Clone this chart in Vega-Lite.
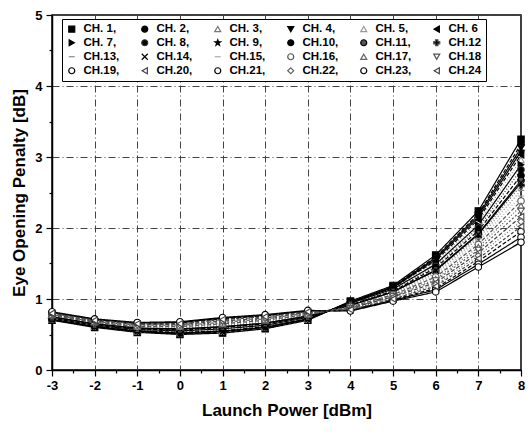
{
  "$schema": "https://vega.github.io/schema/vega-lite/v6.json",
  "width": 469,
  "height": 355,
  "autosize": "none",
  "padding": {"left": 52, "top": 15, "right": 11, "bottom": 64},
  "background": "white",
  "config": {
    "view": {"stroke": "black", "strokeWidth": 1.5},
    "font": "Liberation Sans",
    "axis": {
      "domainColor": "black", "domainWidth": 1.5,
      "tickColor": "black", "tickWidth": 1.2,
      "labelFont": "Liberation Sans", "labelFontWeight": "bold", "labelFontSize": 13, "labelColor": "black",
      "titleFont": "Liberation Sans", "titleFontWeight": "bold", "titleFontSize": 17, "titleColor": "black",
      "gridColor": "#444", "gridDash": [7, 3, 1, 3], "gridWidth": 1
    },
    "legend": {
      "orient": "none", "legendX": 10, "legendY": 4, "columns": 6, "direction": "horizontal",
      "strokeColor": "black", "fillColor": "white", "padding": 4,
      "labelFont": "Liberation Sans", "labelFontWeight": "bold", "labelFontSize": 11.5, "labelColor": "black",
      "symbolSize": 36, "symbolStrokeWidth": 1.2, "labelOffset": 6, "columnPadding": 19, "rowPadding": 1,
      "title": null
    }
  },
  "data": {"values": [
    {"ch":"CH. 1","x":-3,"y":0.70},{"ch":"CH. 1","x":-2,"y":0.60},{"ch":"CH. 1","x":-1,"y":0.53},{"ch":"CH. 1","x":0,"y":0.50},{"ch":"CH. 1","x":1,"y":0.52},{"ch":"CH. 1","x":2,"y":0.58},{"ch":"CH. 1","x":3,"y":0.70},{"ch":"CH. 1","x":4,"y":0.97},{"ch":"CH. 1","x":5,"y":1.19},{"ch":"CH. 1","x":6,"y":1.62},{"ch":"CH. 1","x":7,"y":2.24},{"ch":"CH. 1","x":8,"y":3.25},
    {"ch":"CH. 2","x":-3,"y":0.71},{"ch":"CH. 2","x":-2,"y":0.61},{"ch":"CH. 2","x":-1,"y":0.54},{"ch":"CH. 2","x":0,"y":0.51},{"ch":"CH. 2","x":1,"y":0.53},{"ch":"CH. 2","x":2,"y":0.59},{"ch":"CH. 2","x":3,"y":0.71},{"ch":"CH. 2","x":4,"y":0.96},{"ch":"CH. 2","x":5,"y":1.18},{"ch":"CH. 2","x":6,"y":1.59},{"ch":"CH. 2","x":7,"y":2.20},{"ch":"CH. 2","x":8,"y":3.18},
    {"ch":"CH. 3","x":-3,"y":0.71},{"ch":"CH. 3","x":-2,"y":0.61},{"ch":"CH. 3","x":-1,"y":0.54},{"ch":"CH. 3","x":0,"y":0.52},{"ch":"CH. 3","x":1,"y":0.54},{"ch":"CH. 3","x":2,"y":0.60},{"ch":"CH. 3","x":3,"y":0.71},{"ch":"CH. 3","x":4,"y":0.96},{"ch":"CH. 3","x":5,"y":1.17},{"ch":"CH. 3","x":6,"y":1.57},{"ch":"CH. 3","x":7,"y":2.16},{"ch":"CH. 3","x":8,"y":3.11},
    {"ch":"CH. 4","x":-3,"y":0.71},{"ch":"CH. 4","x":-2,"y":0.61},{"ch":"CH. 4","x":-1,"y":0.54},{"ch":"CH. 4","x":0,"y":0.51},{"ch":"CH. 4","x":1,"y":0.54},{"ch":"CH. 4","x":2,"y":0.60},{"ch":"CH. 4","x":3,"y":0.71},{"ch":"CH. 4","x":4,"y":0.96},{"ch":"CH. 4","x":5,"y":1.17},{"ch":"CH. 4","x":6,"y":1.58},{"ch":"CH. 4","x":7,"y":2.18},{"ch":"CH. 4","x":8,"y":3.13},
    {"ch":"CH. 5","x":-3,"y":0.72},{"ch":"CH. 5","x":-2,"y":0.62},{"ch":"CH. 5","x":-1,"y":0.56},{"ch":"CH. 5","x":0,"y":0.54},{"ch":"CH. 5","x":1,"y":0.56},{"ch":"CH. 5","x":2,"y":0.62},{"ch":"CH. 5","x":3,"y":0.73},{"ch":"CH. 5","x":4,"y":0.94},{"ch":"CH. 5","x":5,"y":1.15},{"ch":"CH. 5","x":6,"y":1.52},{"ch":"CH. 5","x":7,"y":2.08},{"ch":"CH. 5","x":8,"y":2.96},
    {"ch":"CH. 6","x":-3,"y":0.72},{"ch":"CH. 6","x":-2,"y":0.62},{"ch":"CH. 6","x":-1,"y":0.55},{"ch":"CH. 6","x":0,"y":0.53},{"ch":"CH. 6","x":1,"y":0.55},{"ch":"CH. 6","x":2,"y":0.61},{"ch":"CH. 6","x":3,"y":0.72},{"ch":"CH. 6","x":4,"y":0.95},{"ch":"CH. 6","x":5,"y":1.16},{"ch":"CH. 6","x":6,"y":1.54},{"ch":"CH. 6","x":7,"y":2.12},{"ch":"CH. 6","x":8,"y":3.03},
    {"ch":"CH. 7","x":-3,"y":0.73},{"ch":"CH. 7","x":-2,"y":0.63},{"ch":"CH. 7","x":-1,"y":0.57},{"ch":"CH. 7","x":0,"y":0.55},{"ch":"CH. 7","x":1,"y":0.58},{"ch":"CH. 7","x":2,"y":0.63},{"ch":"CH. 7","x":3,"y":0.74},{"ch":"CH. 7","x":4,"y":0.94},{"ch":"CH. 7","x":5,"y":1.14},{"ch":"CH. 7","x":6,"y":1.49},{"ch":"CH. 7","x":7,"y":2.04},{"ch":"CH. 7","x":8,"y":2.89},
    {"ch":"CH. 8","x":-3,"y":0.74},{"ch":"CH. 8","x":-2,"y":0.64},{"ch":"CH. 8","x":-1,"y":0.57},{"ch":"CH. 8","x":0,"y":0.55},{"ch":"CH. 8","x":1,"y":0.59},{"ch":"CH. 8","x":2,"y":0.64},{"ch":"CH. 8","x":3,"y":0.74},{"ch":"CH. 8","x":4,"y":0.93},{"ch":"CH. 8","x":5,"y":1.12},{"ch":"CH. 8","x":6,"y":1.46},{"ch":"CH. 8","x":7,"y":2.00},{"ch":"CH. 8","x":8,"y":2.82},
    {"ch":"CH. 9","x":-3,"y":0.71},{"ch":"CH. 9","x":-2,"y":0.61},{"ch":"CH. 9","x":-1,"y":0.55},{"ch":"CH. 9","x":0,"y":0.52},{"ch":"CH. 9","x":1,"y":0.55},{"ch":"CH. 9","x":2,"y":0.60},{"ch":"CH. 9","x":3,"y":0.72},{"ch":"CH. 9","x":4,"y":0.95},{"ch":"CH. 9","x":5,"y":1.16},{"ch":"CH. 9","x":6,"y":1.56},{"ch":"CH. 9","x":7,"y":2.15},{"ch":"CH. 9","x":8,"y":3.08},
    {"ch":"CH.10","x":-3,"y":0.74},{"ch":"CH.10","x":-2,"y":0.64},{"ch":"CH.10","x":-1,"y":0.58},{"ch":"CH.10","x":0,"y":0.56},{"ch":"CH.10","x":1,"y":0.60},{"ch":"CH.10","x":2,"y":0.65},{"ch":"CH.10","x":3,"y":0.75},{"ch":"CH.10","x":4,"y":0.92},{"ch":"CH.10","x":5,"y":1.11},{"ch":"CH.10","x":6,"y":1.44},{"ch":"CH.10","x":7,"y":1.96},{"ch":"CH.10","x":8,"y":2.74},
    {"ch":"CH.11","x":-3,"y":0.75},{"ch":"CH.11","x":-2,"y":0.65},{"ch":"CH.11","x":-1,"y":0.59},{"ch":"CH.11","x":0,"y":0.57},{"ch":"CH.11","x":1,"y":0.61},{"ch":"CH.11","x":2,"y":0.66},{"ch":"CH.11","x":3,"y":0.76},{"ch":"CH.11","x":4,"y":0.91},{"ch":"CH.11","x":5,"y":1.10},{"ch":"CH.11","x":6,"y":1.41},{"ch":"CH.11","x":7,"y":1.92},{"ch":"CH.11","x":8,"y":2.67},
    {"ch":"CH.12","x":-3,"y":0.75},{"ch":"CH.12","x":-2,"y":0.65},{"ch":"CH.12","x":-1,"y":0.59},{"ch":"CH.12","x":0,"y":0.58},{"ch":"CH.12","x":1,"y":0.62},{"ch":"CH.12","x":2,"y":0.67},{"ch":"CH.12","x":3,"y":0.76},{"ch":"CH.12","x":4,"y":0.91},{"ch":"CH.12","x":5,"y":1.09},{"ch":"CH.12","x":6,"y":1.39},{"ch":"CH.12","x":7,"y":1.88},{"ch":"CH.12","x":8,"y":2.60},
    {"ch":"CH.13","x":-3,"y":0.76},{"ch":"CH.13","x":-2,"y":0.66},{"ch":"CH.13","x":-1,"y":0.60},{"ch":"CH.13","x":0,"y":0.59},{"ch":"CH.13","x":1,"y":0.63},{"ch":"CH.13","x":2,"y":0.68},{"ch":"CH.13","x":3,"y":0.77},{"ch":"CH.13","x":4,"y":0.90},{"ch":"CH.13","x":5,"y":1.08},{"ch":"CH.13","x":6,"y":1.36},{"ch":"CH.13","x":7,"y":1.85},{"ch":"CH.13","x":8,"y":2.53},
    {"ch":"CH.14","x":-3,"y":0.75},{"ch":"CH.14","x":-2,"y":0.65},{"ch":"CH.14","x":-1,"y":0.59},{"ch":"CH.14","x":0,"y":0.58},{"ch":"CH.14","x":1,"y":0.61},{"ch":"CH.14","x":2,"y":0.66},{"ch":"CH.14","x":3,"y":0.76},{"ch":"CH.14","x":4,"y":0.91},{"ch":"CH.14","x":5,"y":1.10},{"ch":"CH.14","x":6,"y":1.40},{"ch":"CH.14","x":7,"y":1.91},{"ch":"CH.14","x":8,"y":2.64},
    {"ch":"CH.15","x":-3,"y":0.77},{"ch":"CH.15","x":-2,"y":0.67},{"ch":"CH.15","x":-1,"y":0.61},{"ch":"CH.15","x":0,"y":0.60},{"ch":"CH.15","x":1,"y":0.64},{"ch":"CH.15","x":2,"y":0.69},{"ch":"CH.15","x":3,"y":0.78},{"ch":"CH.15","x":4,"y":0.89},{"ch":"CH.15","x":5,"y":1.07},{"ch":"CH.15","x":6,"y":1.33},{"ch":"CH.15","x":7,"y":1.81},{"ch":"CH.15","x":8,"y":2.45},
    {"ch":"CH.16","x":-3,"y":0.77},{"ch":"CH.16","x":-2,"y":0.67},{"ch":"CH.16","x":-1,"y":0.61},{"ch":"CH.16","x":0,"y":0.61},{"ch":"CH.16","x":1,"y":0.65},{"ch":"CH.16","x":2,"y":0.70},{"ch":"CH.16","x":3,"y":0.78},{"ch":"CH.16","x":4,"y":0.89},{"ch":"CH.16","x":5,"y":1.06},{"ch":"CH.16","x":6,"y":1.31},{"ch":"CH.16","x":7,"y":1.77},{"ch":"CH.16","x":8,"y":2.38},
    {"ch":"CH.17","x":-3,"y":0.78},{"ch":"CH.17","x":-2,"y":0.68},{"ch":"CH.17","x":-1,"y":0.62},{"ch":"CH.17","x":0,"y":0.62},{"ch":"CH.17","x":1,"y":0.66},{"ch":"CH.17","x":2,"y":0.71},{"ch":"CH.17","x":3,"y":0.79},{"ch":"CH.17","x":4,"y":0.88},{"ch":"CH.17","x":5,"y":1.05},{"ch":"CH.17","x":6,"y":1.28},{"ch":"CH.17","x":7,"y":1.73},{"ch":"CH.17","x":8,"y":2.31},
    {"ch":"CH.18","x":-3,"y":0.78},{"ch":"CH.18","x":-2,"y":0.68},{"ch":"CH.18","x":-1,"y":0.63},{"ch":"CH.18","x":0,"y":0.63},{"ch":"CH.18","x":1,"y":0.67},{"ch":"CH.18","x":2,"y":0.72},{"ch":"CH.18","x":3,"y":0.80},{"ch":"CH.18","x":4,"y":0.87},{"ch":"CH.18","x":5,"y":1.04},{"ch":"CH.18","x":6,"y":1.26},{"ch":"CH.18","x":7,"y":1.69},{"ch":"CH.18","x":8,"y":2.24},
    {"ch":"CH.19","x":-3,"y":0.81},{"ch":"CH.19","x":-2,"y":0.71},{"ch":"CH.19","x":-1,"y":0.66},{"ch":"CH.19","x":0,"y":0.66},{"ch":"CH.19","x":1,"y":0.72},{"ch":"CH.19","x":2,"y":0.76},{"ch":"CH.19","x":3,"y":0.83},{"ch":"CH.19","x":4,"y":0.84},{"ch":"CH.19","x":5,"y":0.99},{"ch":"CH.19","x":6,"y":1.15},{"ch":"CH.19","x":7,"y":1.53},{"ch":"CH.19","x":8,"y":1.95},
    {"ch":"CH.20","x":-3,"y":0.79},{"ch":"CH.20","x":-2,"y":0.69},{"ch":"CH.20","x":-1,"y":0.64},{"ch":"CH.20","x":0,"y":0.64},{"ch":"CH.20","x":1,"y":0.69},{"ch":"CH.20","x":2,"y":0.73},{"ch":"CH.20","x":3,"y":0.81},{"ch":"CH.20","x":4,"y":0.87},{"ch":"CH.20","x":5,"y":1.03},{"ch":"CH.20","x":6,"y":1.23},{"ch":"CH.20","x":7,"y":1.65},{"ch":"CH.20","x":8,"y":2.16},
    {"ch":"CH.21","x":-3,"y":0.81},{"ch":"CH.21","x":-2,"y":0.71},{"ch":"CH.21","x":-1,"y":0.66},{"ch":"CH.21","x":0,"y":0.67},{"ch":"CH.21","x":1,"y":0.73},{"ch":"CH.21","x":2,"y":0.77},{"ch":"CH.21","x":3,"y":0.83},{"ch":"CH.21","x":4,"y":0.84},{"ch":"CH.21","x":5,"y":0.98},{"ch":"CH.21","x":6,"y":1.13},{"ch":"CH.21","x":7,"y":1.49},{"ch":"CH.21","x":8,"y":1.87},
    {"ch":"CH.22","x":-3,"y":0.80},{"ch":"CH.22","x":-2,"y":0.70},{"ch":"CH.22","x":-1,"y":0.64},{"ch":"CH.22","x":0,"y":0.64},{"ch":"CH.22","x":1,"y":0.70},{"ch":"CH.22","x":2,"y":0.74},{"ch":"CH.22","x":3,"y":0.81},{"ch":"CH.22","x":4,"y":0.86},{"ch":"CH.22","x":5,"y":1.01},{"ch":"CH.22","x":6,"y":1.20},{"ch":"CH.22","x":7,"y":1.61},{"ch":"CH.22","x":8,"y":2.09},
    {"ch":"CH.23","x":-3,"y":0.82},{"ch":"CH.23","x":-2,"y":0.72},{"ch":"CH.23","x":-1,"y":0.67},{"ch":"CH.23","x":0,"y":0.68},{"ch":"CH.23","x":1,"y":0.74},{"ch":"CH.23","x":2,"y":0.78},{"ch":"CH.23","x":3,"y":0.84},{"ch":"CH.23","x":4,"y":0.83},{"ch":"CH.23","x":5,"y":0.97},{"ch":"CH.23","x":6,"y":1.10},{"ch":"CH.23","x":7,"y":1.45},{"ch":"CH.23","x":8,"y":1.80},
    {"ch":"CH.24","x":-3,"y":0.80},{"ch":"CH.24","x":-2,"y":0.70},{"ch":"CH.24","x":-1,"y":0.65},{"ch":"CH.24","x":0,"y":0.65},{"ch":"CH.24","x":1,"y":0.71},{"ch":"CH.24","x":2,"y":0.75},{"ch":"CH.24","x":3,"y":0.82},{"ch":"CH.24","x":4,"y":0.85},{"ch":"CH.24","x":5,"y":1.00},{"ch":"CH.24","x":6,"y":1.18},{"ch":"CH.24","x":7,"y":1.57},{"ch":"CH.24","x":8,"y":2.02}
  ]},
  "encoding": {
    "x": {"field": "x", "type": "quantitative",
      "scale": {"domain": [-3, 8], "nice": false, "zero": false},
      "axis": {"title": "Launch Power [dBm]", "titlePadding": 10, "labelPadding": 3,
        "values": [-3,-2.5,-2,-1.5,-1,-0.5,0,0.5,1,1.5,2,2.5,3,3.5,4,4.5,5,5.5,6,6.5,7,7.5,8],
        "labelExpr": "datum.value % 1 === 0 ? '' + datum.value : ''",
        "labelFlush": false, "labelOverlap": false,
        "tickSize": {"condition": {"test": "datum.value % 1 === 0", "value": 6}, "value": 3},
        "gridOpacity": {"condition": {"test": "datum.value % 1 === 0", "value": 1}, "value": 0}}},
    "y": {"field": "y", "type": "quantitative",
      "scale": {"domain": [0, 5], "nice": false},
      "axis": {"title": "Eye Opening Penalty [dB]", "titlePadding": 6, "labelPadding": 4,
        "values": [0,0.5,1,1.5,2,2.5,3,3.5,4,4.5,5],
        "labelExpr": "datum.value % 1 === 0 ? '' + datum.value : ''",
        "labelFlush": false, "labelOverlap": false,
        "tickSize": {"condition": {"test": "datum.value % 1 === 0", "value": 6}, "value": 3},
        "gridOpacity": {"condition": {"test": "datum.value % 1 === 0", "value": 1}, "value": 0}}}
  },
  "layer": [
    {
      "mark": {"type": "line", "strokeWidth": 1.2},
      "encoding": {
        "stroke": {"field": "ch", "type": "nominal",
          "scale": {"domain": ["CH. 1","CH. 2","CH. 3","CH. 4","CH. 5","CH. 6","CH. 7","CH. 8","CH. 9","CH.10","CH.11","CH.12","CH.13","CH.14","CH.15","CH.16","CH.17","CH.18","CH.19","CH.20","CH.21","CH.22","CH.23","CH.24"],
            "range": ["black","black","#777","black","#999","black","black","#333","black","black","black","#555","#888","black","#aaa","#555","#666","#555","black","#444","black","#666","black","#444"]},
          "legend": {"labelExpr": "indexof(['CH. 6','CH.12','CH.18','CH.24'], datum.label) >= 0 ? datum.label : datum.label + ','"}},
        "strokeDash": {"field": "ch", "type": "nominal", "legend": null,
          "scale": {"range": [[1,0],[4,2],[1,2],[1,0],[1,2],[4,2],[1,0],[1,2],[1,0],[4,2],[1,0],[1,2],[1,2],[1,0],[1,2],[4,2],[1,2],[2,2],[4,2],[4,2],[1,0],[1,2],[1,0],[3,2]]}}
      }
    },
    {
      "mark": {"type": "point", "filled": false, "size": 42, "strokeWidth": 1.1, "opacity": 1},
      "encoding": {
        "stroke": {"field": "ch", "type": "nominal",
          "legend": {"labelExpr": "indexof(['CH. 6','CH.12','CH.18','CH.24'], datum.label) >= 0 ? datum.label : datum.label + ','"}},
        "fill": {"field": "ch", "type": "nominal",
          "scale": {"domain": ["CH. 1","CH. 2","CH. 3","CH. 4","CH. 5","CH. 6","CH. 7","CH. 8","CH. 9","CH.10","CH.11","CH.12","CH.13","CH.14","CH.15","CH.16","CH.17","CH.18","CH.19","CH.20","CH.21","CH.22","CH.23","CH.24"],
            "range": ["black","black","white","black","white","black","black","black","black","black","#555","black","white","black","white","white","white","white","white","white","white","white","white","white"]}},
        "shape": {"field": "ch", "type": "nominal",
          "scale": {"domain": ["CH. 1","CH. 2","CH. 3","CH. 4","CH. 5","CH. 6","CH. 7","CH. 8","CH. 9","CH.10","CH.11","CH.12","CH.13","CH.14","CH.15","CH.16","CH.17","CH.18","CH.19","CH.20","CH.21","CH.22","CH.23","CH.24"],
            "range": ["square","circle","triangle-up","triangle-down","triangle-up","triangle-left","triangle-right","circle","M0,-1L0.24,-0.31L0.95,-0.31L0.38,0.12L0.59,0.81L0,0.4L-0.59,0.81L-0.38,0.12L-0.95,-0.31L-0.24,-0.31Z","circle","circle","cross","stroke","M-1,-1L1,1M1,-1L-1,1","stroke","circle","triangle-up","triangle-down","circle","triangle-left","circle","diamond","circle","triangle-left"]}}
      }
    }
  ]
}
